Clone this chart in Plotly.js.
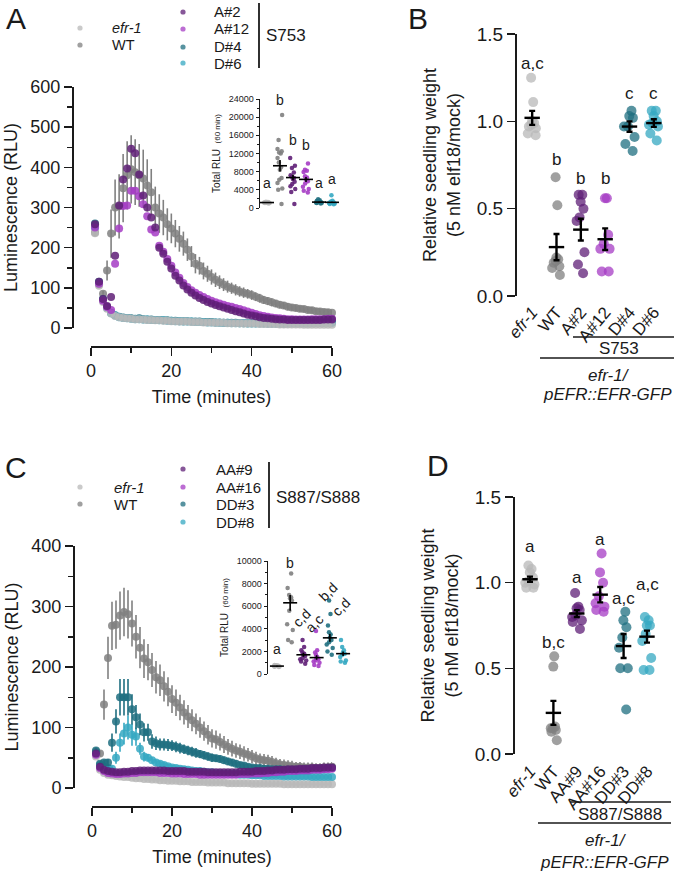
<!DOCTYPE html>
<html>
<head>
<meta charset="utf-8">
<script src="https://cdn.plot.ly/plotly-3.0.1.min.js"></script>
<style>
  html, body { margin: 0; padding: 0; background: #fff; }
  #chart { width: 677px; height: 874px; }
</style>
</head>
<body>
<div id="chart"></div>
<script>
// ---- data ----

const minutes = [1, 2, 3, 4, 5, 6, 7, 8, 9, 10, 11, 12, 13, 14, 15, 16, 17, 18, 19, 20,
  21, 22, 23, 24, 25, 26, 27, 28, 29, 30, 31, 32, 33, 34, 35, 36, 37, 38, 39, 40,
  41, 42, 43, 44, 45, 46, 47, 48, 49, 50, 51, 52, 53, 54, 55, 56, 57, 58, 59, 60];

const genoA = ['efr-1', 'WT', 'A#2', 'A#12', 'D#4', 'D#6'];
const genoC = ['efr-1', 'WT', 'AA#9', 'AA#16', 'DD#3', 'DD#8'];

// panel A time course (RLU)
const lumA_efr1 = [236, 105, 65, 48, 36, 30, 27, 25, 24, 23, 22, 22, 21, 20, 20, 19, 19, 18, 18, 17,
  17, 16, 16, 16, 15, 15, 15, 14, 14, 14, 13, 13, 13, 12, 12, 12, 12, 11, 11, 11,
  11, 10, 10, 10, 10, 10, 9, 9, 9, 9, 9, 9, 8, 8, 8, 8, 8, 8, 8, 8];
const lumA_WT = [238, 108, 85, 143, 235, 300, 303, 348, 380, 395, 388, 380, 372, 355, 338, 300, 285, 275, 258, 248,
  235, 222, 210, 195, 178, 160, 155, 142, 135, 127, 120, 114, 108, 103, 99, 95, 91, 88, 85, 82,
  78, 74, 70, 67, 64, 61, 58, 56, 53, 51, 50, 48, 47, 45, 44, 42, 41, 40, 39, 38];
const lumA_WT_err = [10, 8, 8, 25, 60, 70, 80, 85, 85, 85, 82, 78, 72, 65, 58, 52, 48, 44, 40, 37,
  34, 32, 30, 28, 26, 24, 22, 21, 20, 19, 18, 17, 16, 15, 14, 14, 13, 13, 12, 12,
  11, 11, 10, 10, 10, 9, 9, 9, 9, 8, 8, 8, 8, 8, 8, 8, 8, 8, 8, 8];
const lumA_A2 = [258, 115, 72, 55, 77, 180, 305, 370, 397, 446, 435, 382, 330, 300, 275, 250, 200, 185, 165, 148,
  130, 118, 106, 96, 88, 81, 75, 70, 65, 61, 57, 54, 51, 48, 45, 42, 39, 36, 33, 31,
  29, 27, 25, 24, 23, 22, 21, 21, 20, 20, 20, 20, 20, 20, 20, 20, 20, 21, 21, 21];
const lumA_A12 = [250, 110, 68, 52, 45, 160, 248, 304, 305, 342, 342, 328, 308, 278, 245, 238, 205, 190, 172, 155,
  138, 125, 112, 102, 94, 88, 82, 77, 72, 68, 64, 61, 58, 55, 53, 50, 47, 44, 41, 38,
  35, 32, 30, 28, 26, 25, 24, 23, 22, 22, 21, 21, 21, 21, 22, 22, 22, 22, 23, 23];
const lumA_D4 = [260, 115, 72, 52, 38, 32, 28, 26, 25, 24, 23, 24, 22, 21, 21, 20, 20, 19, 19, 18,
  18, 17, 17, 17, 16, 16, 16, 15, 15, 15, 14, 14, 13, 13, 13, 13, 12, 12, 12, 12,
  12, 12, 12, 11, 11, 11, 11, 11, 12, 12, 12, 12, 12, 12, 13, 13, 13, 13, 14, 14];
const lumA_D6 = [250, 112, 70, 50, 37, 31, 27, 25, 24, 23, 22, 22, 21, 21, 20, 20, 19, 19, 18, 18,
  17, 17, 16, 16, 16, 15, 15, 15, 14, 14, 14, 13, 13, 13, 12, 12, 12, 12, 11, 11,
  11, 11, 11, 11, 11, 11, 11, 11, 11, 12, 12, 12, 12, 12, 12, 13, 13, 13, 13, 13];

// panel A inset: total RLU over 60 min
const rluA_efr1 = [1000, 1100, 1150, 1200, 1200, 1250, 1300, 1350, 1150, 1250, 1200, 1100];
const rluA_WT = [20500, 15000, 13000, 12500, 12200, 12000, 11000, 10000, 9000, 8400, 6600, 6200, 5500, 4300, 4000, 900];
const rluA_A2 = [11000, 9300, 8800, 7800, 7200, 6900, 6600, 6400, 5800, 5300, 4800, 4200, 3500, 900];
const rluA_A12 = [9800, 8400, 8200, 7900, 7000, 6700, 6300, 5900, 5400, 4700, 4200, 3800, 3400];
const rluA_D4 = [1900, 1700, 1600, 1500, 1400, 1350, 1300, 1250, 1200, 1150, 1100, 1000];
const rluA_D6 = [2800, 1600, 1400, 1350, 1300, 1250, 1200, 1150, 1100, 1000, 900, 800];
const rluA_mean = [1200, 9300, 6700, 6300, 1300, 1250];
const rluA_sem = [60, 1250, 600, 550, 90, 150];
const lettersA = ['a', 'b', 'b', 'b', 'a', 'a'];
const lettersA_at = [5500, 23800, 15000, 13900, 5500, 6400];

// panel B: relative seedling weight
const wB_efr1 = [1.25, 1.11, 0.98, 0.97, 0.99, 0.96, 0.93, 0.92, 1.0];
const wB_WT = [0.68, 0.52, 0.21, 0.2, 0.19, 0.17, 0.16, 0.12, 0.22];
const wB_A2 = [0.58, 0.58, 0.54, 0.50, 0.45, 0.43, 0.25, 0.18, 0.13];
const wB_A12 = [0.56, 0.56, 0.35, 0.30, 0.27, 0.27, 0.14, 0.14];
const wB_D4 = [1.06, 1.03, 1.02, 0.97, 0.97, 0.91, 0.87, 0.83];
const wB_D6 = [1.06, 1.06, 1.03, 1.0, 0.99, 0.98, 0.97, 0.93, 0.89];
const wB_mean = [1.02, 0.28, 0.38, 0.325, 0.97, 0.99];
const wB_sem = [0.04, 0.075, 0.062, 0.062, 0.03, 0.022];
const lettersB = ['a,c', 'b', 'b', 'b', 'c', 'c'];
const lettersB_at = [1.33, 0.78, 0.675, 0.675, 1.16, 1.16];

// panel C time course (RLU)
const lumC_efr1 = [52, 30, 25, 22, 21, 20, 19, 18, 18, 17, 16, 16, 15, 15, 14, 14, 13, 13, 12, 12,
  12, 11, 11, 11, 10, 10, 10, 10, 9, 9, 9, 9, 9, 8, 8, 8, 8, 8, 8, 7,
  7, 7, 7, 7, 7, 7, 7, 6, 6, 6, 6, 6, 6, 6, 6, 6, 6, 6, 6, 6];
const lumC_WT = [60, 57, 138, 215, 268, 270, 285, 291, 287, 272, 250, 232, 214, 208, 195, 183, 178, 168, 159, 147,
  141, 133, 125, 118, 112, 106, 100, 94, 88, 82, 80, 76, 72, 68, 65, 62, 60, 57, 55, 52,
  49, 47, 46, 45, 43, 41, 39, 38, 37, 36, 35, 35, 34, 34, 34, 33, 33, 34, 34, 35];
const lumC_WT_err = [5, 5, 25, 35, 40, 40, 40, 40, 40, 38, 36, 34, 32, 30, 28, 27, 26, 25, 24, 23,
  22, 21, 20, 19, 18, 17, 17, 16, 16, 15, 15, 14, 14, 13, 13, 12, 12, 12, 11, 11,
  11, 10, 10, 10, 10, 9, 9, 9, 9, 9, 8, 8, 8, 8, 8, 8, 8, 8, 8, 8];
const lumC_AA9 = [57, 35, 30, 28, 27, 26, 26, 27, 27, 28, 28, 29, 29, 29, 29, 29, 29, 29, 28, 28,
  28, 28, 28, 27, 27, 27, 27, 27, 26, 26, 26, 26, 26, 26, 26, 26, 27, 27, 27, 27,
  28, 28, 28, 29, 29, 30, 30, 30, 31, 31, 31, 32, 32, 32, 33, 33, 33, 34, 34, 34];
const lumC_AA16 = [55, 33, 28, 25, 24, 23, 23, 24, 24, 25, 25, 26, 26, 26, 26, 26, 25, 25, 25, 24,
  24, 24, 23, 23, 23, 23, 22, 22, 22, 22, 22, 22, 22, 22, 22, 22, 23, 23, 23, 24,
  24, 24, 25, 25, 26, 26, 27, 27, 28, 28, 28, 29, 29, 29, 30, 30, 30, 31, 31, 32];
const lumC_DD3 = [62, 40, 42, 42, 75, 110, 150, 150, 150, 130, 117, 105, 92, 92, 77, 74, 72, 72, 71, 70,
  68, 66, 64, 62, 60, 58, 56, 54, 52, 50, 49, 48, 46, 44, 42, 40, 38, 37, 35, 34,
  33, 33, 32, 32, 31, 31, 31, 30, 30, 30, 30, 30, 31, 31, 31, 32, 32, 32, 33, 33];
const lumC_DD3_err = [5, 4, 5, 6, 15, 20, 30, 30, 30, 25, 20, 18, 15, 14, 12, 11, 10, 10, 10, 9,
  9, 9, 8, 8, 8, 8, 7, 7, 7, 7, 6, 6, 6, 6, 6, 6, 5, 5, 5, 5,
  5, 5, 5, 5, 5, 5, 5, 5, 5, 5, 5, 5, 5, 5, 5, 5, 5, 5, 5, 5];
const lumC_DD8 = [58, 38, 35, 33, 32, 50, 75, 90, 100, 88, 85, 65, 52, 50, 46, 42, 40, 38, 36, 34,
  33, 32, 31, 30, 29, 28, 28, 27, 26, 26, 25, 25, 24, 24, 23, 23, 22, 22, 22, 21,
  21, 21, 20, 20, 20, 20, 20, 19, 19, 19, 19, 19, 19, 19, 18, 18, 18, 18, 18, 18];
const lumC_DD8_err = [4, 4, 4, 4, 5, 10, 15, 18, 20, 18, 15, 10, 8, 6, 5, 5, 5, 5, 4, 4,
  4, 4, 4, 4, 4, 4, 4, 4, 4, 4, 4, 4, 4, 4, 4, 4, 4, 4, 4, 4,
  4, 4, 4, 4, 4, 4, 4, 4, 4, 4, 4, 4, 4, 4, 4, 4, 4, 4, 4, 4];

// panel C inset: total RLU over 60 min
const rluC_efr1 = [800, 780, 750, 720, 700, 700, 680, 660, 650, 620];
const rluC_WT = [8900, 7600, 7000, 6800, 6700, 6500, 5600, 4400, 3900, 3000, 2800];
const rluC_AA9 = [3000, 2400, 2100, 1900, 1800, 1700, 1600, 1400, 1300, 1200, 1100, 900];
const rluC_AA16 = [3800, 2100, 1900, 1700, 1500, 1400, 1300, 1200, 1100, 1000, 800, 700];
const rluC_DD3 = [6500, 5300, 4300, 3700, 3500, 3200, 3000, 2800, 2600, 2300, 2000, 1700];
const rluC_DD8 = [3000, 2400, 2100, 1900, 1800, 1700, 1500, 1200, 1100, 1000];
const rluC_mean = [700, 6300, 1700, 1450, 3200, 1800];
const rluC_sem = [40, 700, 180, 200, 350, 200];
const lettersC = ['a', 'b', 'c,d', 'a,c', 'b,d', 'c,d'];
const lettersC_at = [2200, 9800, 5000, 4500, 7300, 5900];

// panel D: relative seedling weight
const wD_efr1 = [1.1, 1.08, 1.06, 1.03, 1.01, 1.0, 0.99, 0.97, 0.97];
const wD_WT = [0.57, 0.51, 0.16, 0.15, 0.15, 0.14, 0.13, 0.08];
const wD_AA9 = [0.94, 0.86, 0.85, 0.84, 0.81, 0.80, 0.78, 0.77, 0.73];
const wD_AA16 = [1.17, 1.06, 1.0, 0.92, 0.88, 0.86, 0.84, 0.83];
const wD_DD3 = [0.83, 0.78, 0.74, 0.68, 0.62, 0.5, 0.5, 0.26];
const wD_DD8 = [0.8, 0.78, 0.75, 0.75, 0.70, 0.66, 0.56, 0.49, 0.49];
const wD_mean = [1.02, 0.24, 0.82, 0.93, 0.63, 0.685];
const wD_sem = [0.015, 0.07, 0.02, 0.045, 0.07, 0.035];
const lettersD = ['a', 'b,c', 'a', 'a', 'a,c', 'a,c'];
const lettersD_at = [1.21, 0.65, 1.03, 1.25, 0.91, 0.99];

// ---- styling ----
const W = 677, H = 874;
const px = v => v / W;            // pixel -> paper x
const py = v => 1 - v / H;        // pixel -> paper y
const INK = '#1a1a1a';
const FONT = 'Liberation Sans, Arial, sans-serif';
const palette = ['#b8b8b8', '#808080', '#5f1f77', '#a53cc4', '#1f6f80', '#35a8c2'];

function course(y, i, xa, ya, err) {
  const t = {
    type: 'scatter', mode: 'markers', x: minutes, y: y, xaxis: xa, yaxis: ya,
    cliponaxis: false, hoverinfo: 'skip', showlegend: false,
    marker: { size: 8, color: palette[i], opacity: 0.85 }
  };
  if (err) t.error_y = { type: 'data', array: err, color: palette[i], thickness: 1.6, width: 0 };
  return t;
}

function dots(vals, cat, i, xa, ya, size, opacity) {
  return {
    type: 'box', x: vals.map(() => cat), y: vals, xaxis: xa, yaxis: ya,
    boxpoints: 'all', jitter: 0.7, pointpos: 0, width: 0.8, whiskerwidth: 0,
    fillcolor: 'rgba(0,0,0,0)', line: { width: 0, color: 'rgba(0,0,0,0)' },
    marker: { color: palette[i], size: size, opacity: opacity },
    hoverinfo: 'skip', showlegend: false
  };
}

function meanSem(cats, means, sems, xa, ya, size, thick, cap) {
  return {
    type: 'scatter', mode: 'markers', x: cats, y: means, xaxis: xa, yaxis: ya,
    cliponaxis: false, hoverinfo: 'skip', showlegend: false,
    marker: { symbol: 'line-ew', size: size, color: '#000', line: { width: thick, color: '#000' } },
    error_y: { type: 'data', array: sems, color: '#000', thickness: thick, width: cap }
  };
}

const traces = [];

// A main
traces.push(course(lumA_WT, 1, 'x', 'y', lumA_WT_err));
traces.push(course(lumA_D4, 4, 'x', 'y'));
traces.push(course(lumA_D6, 5, 'x', 'y'));
traces.push(course(lumA_efr1, 0, 'x', 'y'));
traces.push(course(lumA_A12, 3, 'x', 'y'));
traces.push(course(lumA_A2, 2, 'x', 'y'));

// A inset
[rluA_efr1, rluA_WT, rluA_A2, rluA_A12, rluA_D4, rluA_D6].forEach((v, i) =>
  traces.push(dots(v, genoA[i], i, 'x2', 'y2', 4.5, 0.9)));
traces.push(meanSem(genoA, rluA_mean, rluA_sem, 'x2', 'y2', 10, 1.6, 0));

// B
[wB_efr1, wB_WT, wB_A2, wB_A12, wB_D4, wB_D6].forEach((v, i) =>
  traces.push(dots(v, genoA[i], i, 'x3', 'y3', 10, 0.75)));
traces.push(meanSem(genoA, wB_mean, wB_sem, 'x3', 'y3', 11, 2.4, 3));

// C main
traces.push(course(lumC_WT, 1, 'x4', 'y4', lumC_WT_err));
traces.push(course(lumC_efr1, 0, 'x4', 'y4'));
traces.push(course(lumC_DD8, 5, 'x4', 'y4', lumC_DD8_err));
traces.push(course(lumC_DD3, 4, 'x4', 'y4', lumC_DD3_err));
traces.push(course(lumC_AA16, 3, 'x4', 'y4'));
traces.push(course(lumC_AA9, 2, 'x4', 'y4'));

// C inset
[rluC_efr1, rluC_WT, rluC_AA9, rluC_AA16, rluC_DD3, rluC_DD8].forEach((v, i) =>
  traces.push(dots(v, genoC[i], i, 'x5', 'y5', 4.5, 0.9)));
traces.push(meanSem(genoC, rluC_mean, rluC_sem, 'x5', 'y5', 10, 1.6, 0));

// D
[wD_efr1, wD_WT, wD_AA9, wD_AA16, wD_DD3, wD_DD8].forEach((v, i) =>
  traces.push(dots(v, genoC[i], i, 'x6', 'y6', 10, 0.75)));
traces.push(meanSem(genoC, wD_mean, wD_sem, 'x6', 'y6', 11, 2.4, 3));

// ---- axes ----
const base = {
  showline: true, linecolor: INK, linewidth: 1.5, ticks: 'outside', tickcolor: INK,
  tickwidth: 1.5, showgrid: false, zeroline: false, fixedrange: true, anchor: 'free'
};

function timeX(x0, x1, yPos) {
  return Object.assign({}, base, {
    domain: [px(x0), px(x1)], range: [0, 60], position: py(yPos), ticklen: 8,
    tick0: 0, dtick: 20, tickfont: { size: 18 },
    minor: { tick0: 0, dtick: 10, ticks: 'outside', ticklen: 5, tickwidth: 1.5, tickcolor: INK },
    title: { text: 'Time (minutes)', font: { size: 18 }, standoff: 10 }
  });
}
function lumY(y0, y1, xPos, top) {
  return Object.assign({}, base, {
    domain: [py(y0), py(y1)], range: [0, top], position: px(xPos), ticklen: 8,
    dtick: 100, tickfont: { size: 18 },
    minor: { dtick: 50, ticks: 'outside', ticklen: 5, tickwidth: 1.5, tickcolor: INK },
    title: { text: 'Luminescence (RLU)', font: { size: 18 }, standoff: 6 }
  });
}
function insetX(cats, x0, x1) {
  return { domain: [px(x0), px(x1)], type: 'category', categoryorder: 'array', categoryarray: cats,
    range: [-0.5, 5.5], visible: false, fixedrange: true };
}
function insetY(y0, y1, xPos, top, step) {
  return Object.assign({}, base, {
    domain: [py(y0), py(y1)], range: [0, top], position: px(xPos), linewidth: 1, tickwidth: 1,
    ticklen: 3.5, dtick: step, tickformat: 'd', tickfont: { size: 9 },
    minor: { dtick: step / 2, ticks: 'outside', ticklen: 2, tickwidth: 1, tickcolor: INK },
    title: { text: 'Total RLU  <span style="font-size:8px">(60 min)</span>', font: { size: 10 }, standoff: 5 }
  });
}
function weightX(cats, x0, x1, yPos) {
  return { domain: [px(x0), px(x1)], type: 'category', categoryorder: 'array', categoryarray: cats,
    range: [-0.5, 5.5], anchor: 'free', position: py(yPos), showline: false, ticks: '',
    showgrid: false, zeroline: false, fixedrange: true, tickangle: -50, tickfont: { size: 17 },
    tickmode: 'array', tickvals: cats, ticktext: cats.map(c => c === 'efr-1' ? '<i>efr-1</i>' : c) };
}
function weightY(y0, y1, xPos) {
  return Object.assign({}, base, {
    domain: [py(y0), py(y1)], range: [0, 1.5], position: px(xPos), ticklen: 8,
    dtick: 0.5, tickformat: '.1f', tickfont: { size: 19 },
    title: { text: 'Relative seedling weight<br>(5 nM elf18/mock)', font: { size: 18 }, standoff: 10 }
  });
}

// ---- annotations & shapes ----
const annotations = [];
const shapes = [];

function note(x, y, text, size, extra, italic) {
  annotations.push(Object.assign({ xref: 'paper', yref: 'paper', x: px(x), y: py(y), text: text,
    showarrow: false, font: { size: size, style: italic ? 'italic' : 'normal' },
    xanchor: 'center', yanchor: 'middle', borderpad: 0 }, extra || {}));
}
function hline(x0, x1, y, w) {
  shapes.push({ type: 'line', xref: 'paper', yref: 'paper', x0: px(x0), x1: px(x1), y0: py(y), y1: py(y),
    line: { color: INK, width: w || 1.5 } });
}
function vline(x, y0, y1) {
  shapes.push({ type: 'line', xref: 'paper', yref: 'paper', x0: px(x), x1: px(x), y0: py(y0), y1: py(y1),
    line: { color: INK, width: 1.8 } });
}
function dot(x, y, i) {
  shapes.push({ type: 'circle', xref: 'paper', yref: 'paper', x0: px(x - 2.6), x1: px(x + 2.6),
    y0: py(y + 2.6), y1: py(y - 2.6), fillcolor: palette[i], opacity: 0.75, line: { width: 0 } });
}
function letters(cats, labels, at, xa, ya, size, angle) {
  cats.forEach((c, i) => annotations.push({ xref: xa, yref: ya, x: c, y: at[i], text: labels[i],
    showarrow: false, font: { size: size }, textangle: angle || 0, xshift: angle ? -2 : 0 }));
}
const LEFT = { xanchor: 'left', align: 'left' };

// panel letters
note(16, 18, 'A', 30); note(418, 18, 'B', 30); note(16, 467, 'C', 30); note(438, 465, 'D', 30);

// legend A
[[0, 28], [1, 45]].forEach(([i, y]) => { dot(80, y, i); note(111, y, genoA[i], 14.5, LEFT, i === 0); });
[[2, 12], [3, 29], [4, 47], [5, 63]].forEach(([i, y]) => { dot(183, y, i); note(213, y, genoA[i], 15, LEFT); });
vline(259, 3, 68);
note(265, 36, 'S753', 17, LEFT);

// legend C
[[0, 487], [1, 504]].forEach(([i, y]) => { dot(80, y, i); note(113, y, genoC[i], 15, LEFT, i === 0); });
[[2, 469], [3, 487], [4, 504], [5, 522]].forEach(([i, y]) => { dot(183, y, i); note(215, y, genoC[i], 15, LEFT); });
vline(269, 462, 528);
note(275, 497, 'S887/S888', 17, LEFT);

// group brackets under B and D
hline(573, 674, 337); note(619, 348, 'S753', 17);
hline(540, 674, 358); note(609, 375, 'efr-1/', 17, null, true); note(607, 394, 'pEFR::EFR-GFP', 17, null, true);
hline(570, 671, 802); note(620, 814, 'S887/S888', 17);
hline(538, 671, 823); note(606, 840, 'efr-1/', 17, null, true); note(604, 862, 'pEFR::EFR-GFP', 17, null, true);

// significance letters
letters(genoA, lettersA, lettersA_at, 'x2', 'y2', 14);
letters(genoA, lettersB, lettersB_at, 'x3', 'y3', 17);
letters(genoC.slice(0, 2), lettersC.slice(0, 2), lettersC_at.slice(0, 2), 'x5', 'y5', 14);
letters(genoC.slice(2), lettersC.slice(2), lettersC_at.slice(2), 'x5', 'y5', 14, -45);
letters(genoC, lettersD, lettersD_at, 'x6', 'y6', 17);

const layout = {
  width: W, height: H, autosize: false,
  margin: { l: 0, r: 0, t: 0, b: 0 },
  paper_bgcolor: '#ffffff', plot_bgcolor: 'rgba(0,0,0,0)',
  font: { family: FONT, color: INK, size: 14 },
  showlegend: false, boxmode: 'overlay',
  xaxis: timeX(91, 332, 346),
  yaxis: lumY(328, 87, 72, 600),
  xaxis2: Object.assign(insetX(genoA, 260.5, 338.5), { anchor: 'y2' }),
  yaxis2: insetY(208, 99, 259, 24000, 4000),
  xaxis3: weightX(genoA, 520, 666, 298),
  yaxis3: weightY(296, 34, 515),
  xaxis4: timeX(92, 332, 806),
  yaxis4: lumY(788, 546, 73, 400),
  xaxis5: Object.assign(insetX(genoC, 270.3, 349.7), { anchor: 'y5' }),
  yaxis5: insetY(674, 561, 267, 10000, 2000),
  xaxis6: weightX(genoC, 518.3, 658.7, 757),
  yaxis6: weightY(754, 497, 513),
  annotations: annotations,
  shapes: shapes
};

Plotly.newPlot('chart', traces, layout, { staticPlot: true, displayModeBar: false });
</script>
</body>
</html>
